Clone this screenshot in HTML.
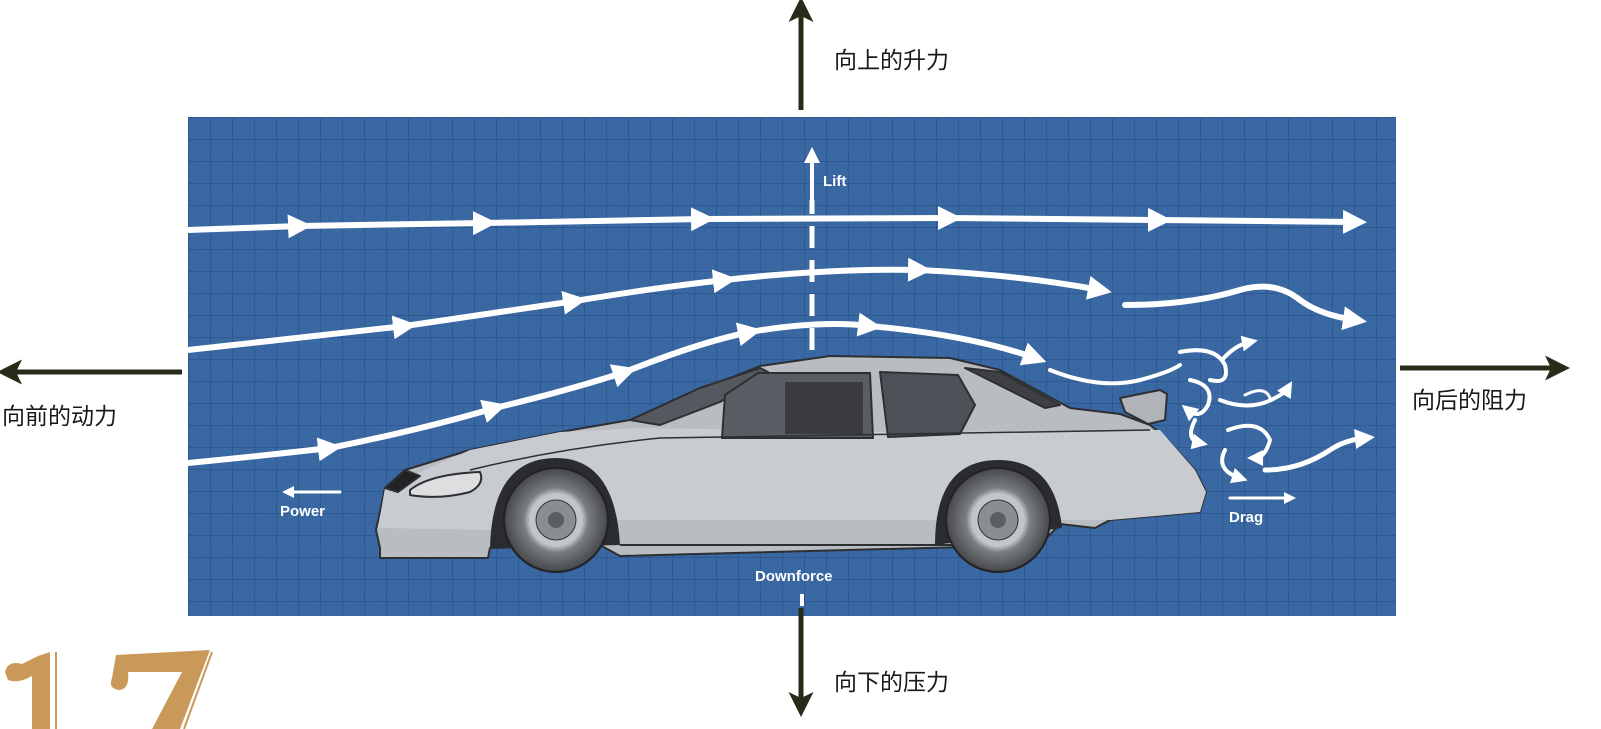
<!DOCTYPE html>
<html><head><meta charset="utf-8"><style>
html,body{margin:0;padding:0;background:#fff;width:1601px;height:729px;overflow:hidden}
svg{display:block}
.cn{font-family:"Liberation Sans","Noto Sans CJK SC",sans-serif;font-size:23px;fill:#1a1a1a}
.lb{font-family:"Liberation Sans",sans-serif;font-weight:bold;font-size:15px;fill:#fff}
</style></head><body>
<svg width="1601" height="729" viewBox="0 0 1601 729" xmlns="http://www.w3.org/2000/svg">
<defs>
<pattern id="g" x="188" y="117" width="22" height="22" patternUnits="userSpaceOnUse">
<rect width="22" height="22" fill="#3a68a2"/>
<path d="M0 0H22M0 0V22" stroke="#2a528c" stroke-width="1.5"/>
<path d="M0 11H22M11 0V22" stroke="#3663a0" stroke-width="0.8"/>
</pattern>
<marker id="w" markerWidth="4" markerHeight="4" refX="2" refY="2" orient="auto" markerUnits="strokeWidth"><path d="M0,0L4,2L0,4z" fill="#fff"/></marker>
<marker id="k" markerWidth="5" markerHeight="5" refX="2" refY="2.5" orient="auto" markerUnits="strokeWidth"><path d="M0,0L5,2.5L0,5L1.2,2.5z" fill="#2a2a18"/></marker>
<radialGradient id="tire" cx="0.5" cy="0.5" r="0.5"><stop offset="0.5" stop-color="#c2c5c9"/><stop offset="0.62" stop-color="#7a7d82"/><stop offset="1" stop-color="#45474b"/></radialGradient>
</defs>
<rect x="188" y="117" width="1208" height="499" fill="url(#g)"/>

<g fill="none" stroke="#fff" stroke-width="6" stroke-linecap="round">
<path d="M188 230 L300 226" marker-end="url(#w)"/>
<path d="M300 226 L485 223" marker-end="url(#w)"/>
<path d="M485 223 L703 219" marker-end="url(#w)"/>
<path d="M703 219 L950 218" marker-end="url(#w)"/>
<path d="M950 218 L1160 220" marker-end="url(#w)"/>
<path d="M1160 220 L1355 222" marker-end="url(#w)"/>
<path d="M188 350 Q300 338 405 326" marker-end="url(#w)"/>
<path d="M405 326 Q500 312 575 301" marker-end="url(#w)"/>
<path d="M575 301 Q660 287 725 280" marker-end="url(#w)"/>
<path d="M725 280 Q830 268 920 270" marker-end="url(#w)"/>
<path d="M920 270 Q1020 275 1100 290" marker-end="url(#w)"/>
<path d="M1125 305 Q1190 305 1240 290 Q1275 280 1300 300 Q1320 315 1355 320" marker-end="url(#w)"/>
<path d="M188 463 Q260 456 330 448" marker-end="url(#w)"/>
<path d="M330 448 Q420 430 495 408" marker-end="url(#w)"/>
<path d="M495 408 Q570 390 625 372" marker-end="url(#w)"/>
<path d="M625 372 Q700 342 750 332" marker-end="url(#w)"/>
<path d="M750 332 Q820 320 870 326" marker-end="url(#w)"/>
<path d="M870 326 Q970 335 1035 358" marker-end="url(#w)"/>
<path d="M1050 370 Q1100 390 1140 380 Q1170 372 1180 365" stroke-width="4"/>
<path d="M1180 352 Q1215 345 1225 365 Q1230 385 1210 380" stroke-width="4"/>
<path d="M1222 360 Q1235 345 1250 342" stroke-width="4" marker-end="url(#w)"/>
<path d="M1190 380 Q1215 385 1208 405 Q1200 420 1188 410" stroke-width="4" marker-end="url(#w)"/>
<path d="M1220 400 Q1250 412 1275 398 Q1285 393 1288 388" stroke-width="4" marker-end="url(#w)"/>
<path d="M1245 395 Q1265 385 1270 398" stroke-width="3"/>
<path d="M1195 420 Q1185 440 1200 443" stroke-width="4" marker-end="url(#w)"/>
<path d="M1228 430 Q1260 418 1270 440 Q1265 458 1255 458" stroke-width="4" marker-end="url(#w)"/>
<path d="M1225 450 Q1215 470 1240 478" stroke-width="4" marker-end="url(#w)"/>
<path d="M1265 470 Q1300 470 1330 450 Q1345 440 1365 438" stroke-width="5" marker-end="url(#w)"/>
<path d="M812 350 L812 200" stroke-width="5" stroke-dasharray="22 12" stroke-linecap="butt"/>
<path d="M812 205 L812 155" stroke-width="4" marker-end="url(#w)"/>
<path d="M340 492 L288 492" stroke-width="3" marker-end="url(#w)"/>
<path d="M1230 498 L1290 498" stroke-width="3" marker-end="url(#w)"/>
<path d="M802 594 L802 606" stroke-width="4" stroke-linecap="butt"/>
</g>
<text class="lb" x="823" y="186">Lift</text>
<text class="lb" x="280" y="516">Power</text>
<text class="lb" x="1229" y="522">Drag</text>
<text class="lb" x="755" y="581">Downforce</text>

<g stroke="#2d2f33" stroke-width="2" stroke-linejoin="round">
<path d="M380 548 L376 530 L385 488 L405 470 L470 450 L560 432 L630 420 L700 390 L760 366 L830 356 L950 358 L1000 370 L1070 408 L1120 414 L1150 425 L1168 440 L1195 470 L1206 492 L1200 512 L1110 520 L1095 528 L1060 524 L1040 545 L620 556 L600 545 L490 548 L488 558 L380 558 Z" fill="#b9bcc1"/>
<path d="M385 488 L470 450 L560 432 L640 428 L900 432 L1160 430 L1195 470 L1206 492 L1200 512 L1110 520 L620 520 L490 530 L378 528 Z" fill="#c8cbcf" stroke="none"/>
<path d="M630 420 L700 388 L760 368 L768 372 L720 402 L660 425 Z" fill="#55585e"/>
<path d="M722 438 L725 395 L758 373 L870 373 L873 438 Z" fill="#5a5d63"/>
<path d="M880 372 L958 375 L975 405 L960 434 L888 437 Z" fill="#4e5157"/>
<path d="M965 368 L1000 372 L1060 405 L1045 408 Z" fill="#3e4046"/>
<path d="M1120 398 L1160 390 L1167 394 L1165 420 L1148 424 L1125 412 Z" fill="#b0b3b8"/>
<path d="M405 470 L385 488 L398 492 L420 476 Z" fill="#222"/>
<path d="M410 490 Q430 474 480 472 Q485 484 470 492 Q440 500 410 495 Z" fill="#dcdee0"/>
<path d="M620 545 L1040 545" fill="none"/>
<path d="M470 470 Q560 448 660 438 L1150 430" fill="none" stroke-width="1.5"/>
</g>
<rect x="785" y="382" width="78" height="52" fill="#3a3c40"/>
<path d="M490 548 Q492 458 556 458 Q615 458 620 545 Z" fill="#2a2c30"/>
<path d="M935 545 Q935 460 998 460 Q1055 460 1062 528 Z" fill="#2a2c30"/>
<circle cx="556" cy="520" r="52" fill="url(#tire)" stroke="#222" stroke-width="2"/>
<circle cx="556" cy="520" r="20" fill="#8a8d92" stroke="#333"/>
<circle cx="556" cy="520" r="8" fill="#5a5d62"/>
<circle cx="998" cy="520" r="52" fill="url(#tire)" stroke="#222" stroke-width="2"/>
<circle cx="998" cy="520" r="20" fill="#8a8d92" stroke="#333"/>
<circle cx="998" cy="520" r="8" fill="#5a5d62"/>

<g stroke="#2a2a18" stroke-width="5" fill="none">
<path d="M801 110 L801 12" marker-end="url(#k)"/>
<path d="M801 608 L801 702" marker-end="url(#k)"/>
<path d="M182 372 L12 372" marker-end="url(#k)"/>
<path d="M1400 368 L1555 368" marker-end="url(#k)"/>
</g>
<text class="cn" x="834" y="68">向上的升力</text>
<text class="cn" x="834" y="690">向下的压力</text>
<text class="cn" x="2" y="424">向前的动力</text>
<text class="cn" x="1412" y="408">向后的阻力</text>

<g fill="#c9995a">
<path d="M5 672 Q8 660 22 664 L38 656 L50 652 L50 729 L32 729 L32 676 Q18 684 8 680 Z"/>
<path d="M116 655 L210 650 L180 729 L152 729 L182 672 L128 672 Q130 690 118 690 Q108 688 112 678 Z"/>
</g>
<path d="M56 652 L56 729 M212 652 L184 729" stroke="#c9995a" stroke-width="2" fill="none"/>
</svg>
</body></html>
